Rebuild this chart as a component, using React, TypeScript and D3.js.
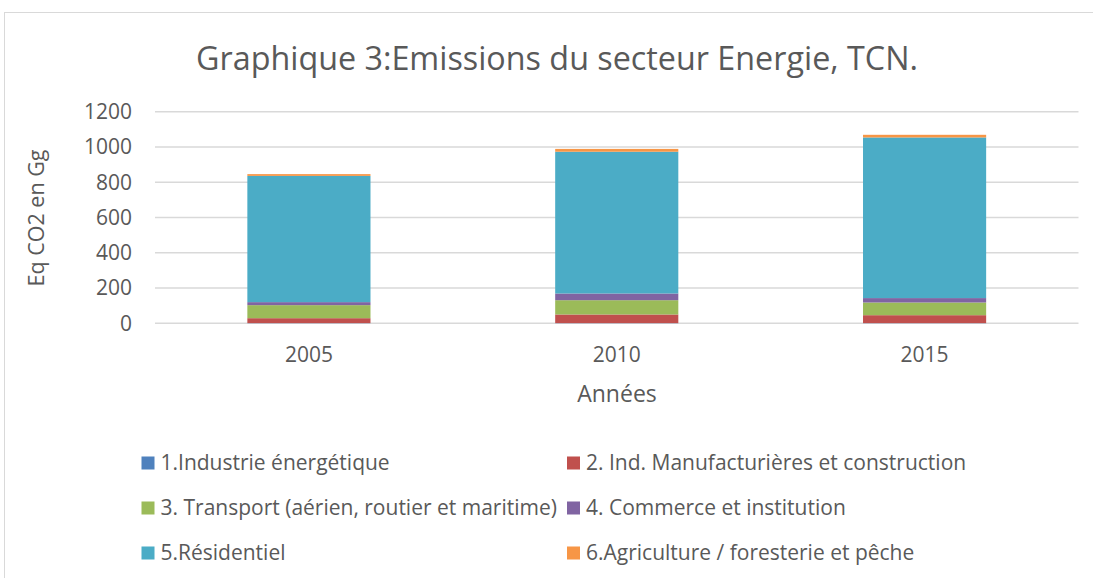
import React from "react";
import * as d3 from "d3";

const years = ["2005", "2010", "2015"];
const seriesNames = [
  "1.Industrie énergétique",
  "2. Ind. Manufacturières et construction",
  "3. Transport (aérien, routier et maritime)",
  "4. Commerce et institution",
  "5.Résidentiel",
  "6.Agriculture / foresterie et pêche",
];
const industrie = [1, 1, 1];
const manufacturieres = [28, 49, 45];
const transport = [74, 81, 72];
const commerce = [17, 38, 25];
const residentiel = [716, 804, 911];
const agriculture = [10, 16, 15];
const yTicks = [0, 200, 400, 600, 800, 1000, 1200];
const colors = ["#4F81BD", "#C0504D", "#9BBB59", "#8064A2", "#4BACC6", "#F79646"];

const W = 1093;
const H = 578;
const font = "'Open Sans', sans-serif";
const textColor = "#595959";

export default function App() {
  const seriesValues = [industrie, manufacturieres, transport, commerce, residentiel, agriculture];
  const rows = years.map((y, i) => {
    const r: any = { year: y };
    seriesValues.forEach((s, k) => (r["s" + k] = s[i]));
    return r;
  });
  const keys = seriesValues.map((_, k) => "s" + k);
  const stacked = d3.stack().keys(keys)(rows);

  const x = d3.scaleBand().domain(years).range([155, 1078.5]).paddingInner(0.6).paddingOuter(0.3);
  const y = d3.scaleLinear().domain([0, 1200]).range([323.3, 111.7]);

  const legendPos = [
    [141.5, 463],
    [567, 463],
    [141.5, 508],
    [567, 508],
    [141.5, 553],
    [567, 553],
  ];

  return (
    <svg width={W} height={H} style={{ position: "absolute", left: 0, top: 0, background: "#fff" }} fontFamily={font}>
      <rect x={4.5} y={12.5} width={W + 10} height={H + 10} fill="#fff" stroke="#d9d9d9" strokeWidth={1} />
      <text x={557} y={70} textAnchor="middle" fontSize={32.3} fill={textColor}>
        Graphique 3:Emissions du secteur Energie, TCN.
      </text>
      {yTicks.map((t) => (
        <g key={t}>
          <line x1={155} x2={1078.5} y1={y(t)} y2={y(t)} stroke="#d9d9d9" strokeWidth={1.5} />
          <text x={132} y={y(t)} dy="0.35em" textAnchor="end" fontSize={21} fill={textColor}>
            {t}
          </text>
        </g>
      ))}
      {stacked.map((layer, k) => (
        <g key={k} fill={colors[k]}>
          {layer.map((d: any, i) => (
            <rect
              key={i}
              x={x(years[i])!}
              width={x.bandwidth()}
              y={y(d[1])}
              height={Math.max(0, y(d[0]) - y(d[1]))}
            />
          ))}
        </g>
      ))}
      {years.map((yr) => (
        <text key={yr} x={x(yr)! + x.bandwidth() / 2} y={355} dy="0.35em" textAnchor="middle" fontSize={21} fill={textColor}>
          {yr}
        </text>
      ))}
      <text x={617} y={394} dy="0.35em" textAnchor="middle" fontSize={23} fill={textColor}>
        Années
      </text>
      <text transform={`translate(36,218) rotate(-90)`} dy="0.35em" textAnchor="middle" fontSize={21.5} fill={textColor}>
        Eq CO2 en Gg
      </text>
      {seriesNames.map((n, k) => (
        <g key={n}>
          <rect x={legendPos[k][0]} y={legendPos[k][1] - 6.5} width={13} height={13} fill={colors[k]} />
          <text x={legendPos[k][0] + 19} y={legendPos[k][1]} dy="0.35em" fontSize={21} fill={textColor}>
            {n}
          </text>
        </g>
      ))}
    </svg>
  );
}
